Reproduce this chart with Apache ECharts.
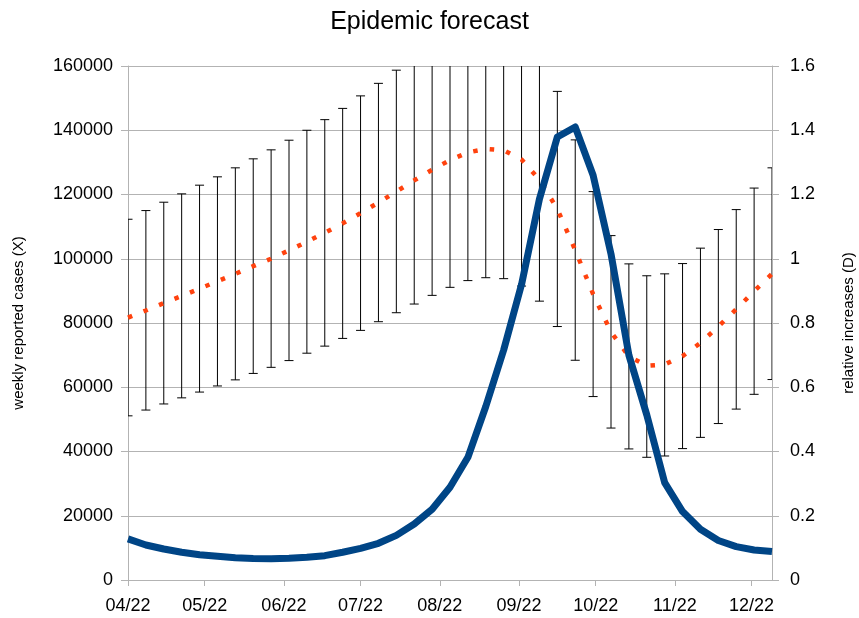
<!DOCTYPE html>
<html>
<head>
<meta charset="utf-8">
<script src="https://cdn.jsdelivr.net/npm/echarts@6/dist/echarts.min.js"></script>
<style>
  html, body { margin: 0; padding: 0; background: #fff; }
  #chart { width: 859px; height: 618px; }
</style>
</head>
<body>
<div id="chart"></div>
<script>
// weekly dates (x)
const weeks = [
  "2022-04-01", "2022-04-08", "2022-04-15", "2022-04-22", "2022-04-29",
  "2022-05-06", "2022-05-13", "2022-05-20", "2022-05-27",
  "2022-06-03", "2022-06-10", "2022-06-17", "2022-06-24",
  "2022-07-01", "2022-07-08", "2022-07-15", "2022-07-22", "2022-07-29",
  "2022-08-05", "2022-08-12", "2022-08-19", "2022-08-26",
  "2022-09-02", "2022-09-09", "2022-09-16", "2022-09-23", "2022-09-30",
  "2022-10-07", "2022-10-14", "2022-10-21", "2022-10-28",
  "2022-11-04", "2022-11-11", "2022-11-18", "2022-11-25",
  "2022-12-02", "2022-12-09"
];
// month ticks on the x axis
const monthTicks = [
  "2022-04-01", "2022-05-01", "2022-06-01", "2022-07-01", "2022-08-01",
  "2022-09-01", "2022-10-01", "2022-11-01", "2022-12-01"
];
// weekly reported cases (X), left axis
const cases = [
  12800, 10900, 9650, 8620, 7880, 7370, 6950, 6700, 6650, 6750, 7060, 7580,
  8650, 9860, 11420, 13900, 17430, 22000, 28850, 38190, 54000, 71600, 92000,
  118600, 137900, 141000, 126000, 101500, 70000, 51400, 30300, 21300, 15800,
  12300, 10400, 9350, 8850
];
// relative increases (D), right axis
const relInc = [
  0.817, 0.839, 0.862, 0.884, 0.907, 0.930, 0.953, 0.977, 1.000, 1.026, 1.053,
  1.081, 1.110, 1.142, 1.175, 1.209, 1.244, 1.277, 1.307, 1.331, 1.342, 1.338,
  1.309, 1.246, 1.155, 1.027, 0.890, 0.772, 0.696, 0.667, 0.671, 0.697, 0.738,
  0.789, 0.843, 0.899, 0.953
];
// error bar ends for D
const errHigh = [
  1.123, 1.150, 1.176, 1.202, 1.229, 1.255, 1.283, 1.311, 1.339, 1.369, 1.400,
  1.433, 1.468, 1.507, 1.546, 1.587, 1.629, 1.667, 1.703, 1.730, 1.743, 1.737,
  1.703, 1.625, 1.521, 1.370, 1.209, 1.072, 0.984, 0.947, 0.953, 0.985, 1.033,
  1.091, 1.153, 1.220, 1.283
];
const errLow = [
  0.511, 0.529, 0.548, 0.567, 0.585, 0.604, 0.623, 0.643, 0.662, 0.683, 0.706,
  0.728, 0.752, 0.777, 0.804, 0.832, 0.859, 0.886, 0.911, 0.932, 0.941, 0.938,
  0.915, 0.868, 0.789, 0.684, 0.571, 0.473, 0.408, 0.382, 0.386, 0.409, 0.444,
  0.487, 0.532, 0.578, 0.624
];

// dates -> timestamps (local time)
const parse = (s) => {
  const p = s.split("-").map(Number);
  return new Date(p[0], p[1] - 1, p[2]).getTime();
};
const gray = "#b3b3b3";
const font = "'Liberation Sans', Arial, sans-serif";

const chart = echarts.init(document.getElementById("chart"));

const option = {
  animation: false,
  textStyle: { fontFamily: font },
  title: {
    text: "Epidemic forecast",
    left: "center",
    top: 5,
    textStyle: { fontFamily: font, fontSize: 25, fontWeight: "normal", color: "#000" }
  },
  grid: { left: 128, right: 87, top: 66, bottom: 38, outerBoundsMode: "none", containLabel: false },
  xAxis: {
    type: "value",
    min: parse(weeks[0]),
    max: parse(weeks[weeks.length - 1]),
    axisLine: { lineStyle: { color: gray } },
    axisTick: {
      show: true,
      length: 6,
      customValues: monthTicks.map(parse),
      lineStyle: { color: gray }
    },
    axisLabel: {
      customValues: monthTicks.map(parse),
      margin: 17,
      fontSize: 18,
      color: "#000",
      fontFamily: font,
      formatter: function (v) {
        const d = new Date(v);
        const m = d.getMonth() + 1;
        return (m < 10 ? "0" + m : m) + "/" + String(d.getFullYear()).slice(2);
      }
    },
    splitLine: { show: false }
  },
  yAxis: [
    {
      type: "value",
      min: 0,
      max: 160000,
      interval: 20000,
      name: "weekly reported cases (X)",
      nameLocation: "middle",
      nameRotate: 90,
      nameGap: 102,
      nameTextStyle: { fontSize: 15, color: "#000", fontFamily: font },
      axisLine: { show: true, lineStyle: { color: gray } },
      axisTick: { show: true, length: 7, lineStyle: { color: gray } },
      axisLabel: {
        fontSize: 18, color: "#000", margin: 15, fontFamily: font,
        formatter: (v) => String(v)
      },
      splitLine: { lineStyle: { color: gray } }
    },
    {
      type: "value",
      position: "right",
      min: 0,
      max: 1.6,
      interval: 0.2,
      name: "relative increases (D)",
      nameLocation: "middle",
      nameRotate: 90,
      nameGap: 69,
      nameTextStyle: { fontSize: 15, color: "#000", fontFamily: font },
      axisLine: { show: true, lineStyle: { color: gray } },
      axisTick: { show: true, length: 7, lineStyle: { color: gray } },
      axisLabel: {
        fontSize: 18, color: "#000", margin: 18, fontFamily: font,
        formatter: (v) => String(Math.round(v * 10) / 10)
      },
      splitLine: { show: false }
    }
  ],
  series: [
    {
      // error bars
      type: "custom",
      yAxisIndex: 1,
      clip: true,
      z: 2,
      data: weeks.map((w, i) => [parse(w), errLow[i], errHigh[i]]),
      encode: { x: 0, y: [1, 2] },
      renderItem: function (params, api) {
        const lo = api.coord([api.value(0), api.value(1)]);
        const hi = api.coord([api.value(0), api.value(2)]);
        const hw = 4.5;
        const style = { stroke: "#000", lineWidth: 1 };
        return {
          type: "group",
          children: [
            { type: "line", shape: { x1: lo[0], y1: lo[1], x2: hi[0], y2: hi[1] }, style: style },
            { type: "line", shape: { x1: lo[0] - hw, y1: lo[1], x2: lo[0] + hw, y2: lo[1] }, style: style },
            { type: "line", shape: { x1: hi[0] - hw, y1: hi[1], x2: hi[0] + hw, y2: hi[1] }, style: style }
          ]
        };
      }
    },
    {
      name: "relative increases (D)",
      type: "line",
      yAxisIndex: 1,
      z: 3,
      symbol: "none",
      data: weeks.map((w, i) => [parse(w), relInc[i]]),
      lineStyle: { color: "#ff420e", width: 4.5, type: [4.5, 12.2], cap: "butt" }
    },
    {
      name: "weekly reported cases (X)",
      type: "line",
      yAxisIndex: 0,
      z: 4,
      symbol: "none",
      data: weeks.map((w, i) => [parse(w), cases[i]]),
      lineStyle: { color: "#004586", width: 7, join: "round" }
    }
  ]
};

chart.setOption(option);
</script>
</body>
</html>
